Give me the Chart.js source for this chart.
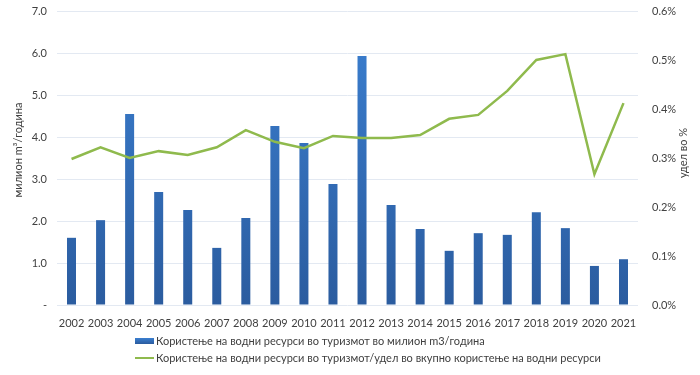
<!DOCTYPE html>
<html>
<head>
<meta charset="utf-8">
<script src="https://cdn.jsdelivr.net/npm/chart.js@4"></script>
<style>
html,body{margin:0;padding:0;background:#fff;}
#wrap{position:relative;width:700px;height:375px;}
</style>
</head>
<body>
<div id="wrap"><canvas id="c" width="700" height="375"></canvas></div>
<script>
const years = ["2002","2003","2004","2005","2006","2007","2008","2009","2010","2011","2012","2013","2014","2015","2016","2017","2018","2019","2020","2021"];
const waterUse = [1.60,2.02,4.55,2.69,2.26,1.36,2.07,4.26,3.86,2.88,5.93,2.38,1.81,1.29,1.71,1.67,2.21,1.83,0.93,1.09];
const sharePct = [0.298,0.322,0.300,0.314,0.306,0.322,0.357,0.333,0.320,0.345,0.341,0.341,0.347,0.380,0.388,0.437,0.500,0.512,0.267,0.412];
const leftTicks = ["-","1.0","2.0","3.0","4.0","5.0","6.0","7.0"];
const rightTicks = ["0.0%","0.1%","0.2%","0.3%","0.4%","0.5%","0.6%"];
const barLabel = "Користење на водни ресурси во туризмот во милион m3/година";
const lineLabel = "Користење на водни ресурси во туризмот/удел во вкупно користење на водни ресурси";
const leftTitle = "милион m³/година";
const rightTitle = "удел во %";

const FONT = "Lato, 'Open Sans', sans-serif";
const TXT = "#404040";

const extrasPlugin = {
  id: 'extras',
  afterDraw(chart) {
    const ctx = chart.ctx;
    ctx.save();
    ctx.font = "11px " + FONT;
    ctx.fillStyle = TXT;
    ctx.textBaseline = 'middle';
    ctx.textAlign = 'center';
    ctx.save();
    ctx.translate(18, 150);
    ctx.rotate(-Math.PI / 2);
    ctx.fillText(leftTitle, 0, 0);
    ctx.restore();
    ctx.save();
    ctx.translate(683, 153);
    ctx.rotate(-Math.PI / 2);
    ctx.fillText(rightTitle, 0, 0);
    ctx.restore();
    ctx.restore();
    // legend
    ctx.save();
    ctx.font = "11px " + FONT;
    ctx.textBaseline = 'middle';
    ctx.textAlign = 'left';
    const lx = 135;
    const y1 = 341, y2 = 358;
    const g = ctx.createLinearGradient(0, y1 - 3, 0, y1 + 3);
    g.addColorStop(0, '#3b7fd0'); g.addColorStop(1, '#2a5b9e');
    ctx.fillStyle = g;
    ctx.fillRect(lx, y1 - 3, 19, 6);
    ctx.fillStyle = TXT;
    ctx.fillText(barLabel, lx + 21, y1);
    ctx.strokeStyle = '#8fba4d';
    ctx.lineWidth = 2;
    ctx.beginPath(); ctx.moveTo(lx, y2); ctx.lineTo(lx + 19, y2); ctx.stroke();
    ctx.fillText(lineLabel, lx + 21, y2);
    ctx.restore();
  }
};

function barGradient(context) {
  const chart = context.chart;
  const ca = chart.chartArea;
  if (!ca) return '#3372c0';
  const g = chart.ctx.createLinearGradient(0, ca.top, 0, ca.bottom);
  g.addColorStop(0, '#3b80d2');
  g.addColorStop(1, '#2b5c9f');
  return g;
}

new Chart(document.getElementById('c'), {
  data: {
    labels: years,
    datasets: [
      {
        type: 'line',
        label: lineLabel,
        data: sharePct,
        yAxisID: 'y1',
        borderColor: '#8fba4d',
        borderWidth: 2.5,
        pointRadius: 0,
        tension: 0,
        order: 0
      },
      {
        type: 'bar',
        label: barLabel,
        data: waterUse,
        yAxisID: 'y',
        backgroundColor: barGradient,
        borderWidth: 0,
        barPercentage: 0.62,
        categoryPercentage: 0.5,
        order: 1
      }
    ]
  },
  options: {
    responsive: false,
    animation: false,
    layout: { autoPadding: false, padding: { top: 11, bottom: 48, left: 0, right: 0 } },
    plugins: { legend: { display: false }, tooltip: { enabled: false } },
    scales: {
      x: {
        grid: { display: false },
        border: { display: false },
        ticks: { color: TXT, font: { size: 11, family: FONT }, padding: 4, maxRotation: 0, autoSkip: false },
        afterFit(s) { s.height = 22; s.paddingLeft = 0; s.paddingRight = 0; }
      },
      y: {
        position: 'left',
        min: 0, max: 7,
        ticks: {
          stepSize: 1,
          color: TXT,
          font: { size: 11, family: FONT },
          padding: 10,
          callback: (v) => leftTicks[Math.round(v)]
        },
        grid: { color: '#e3e9f2', lineWidth: 1, drawTicks: false },
        border: { display: false },
        afterFit(s) { s.width = 57; s.paddingTop = 0; s.paddingBottom = 0; }
      },
      y1: {
        position: 'right',
        min: 0, max: 0.6,
        ticks: {
          stepSize: 0.1,
          color: TXT,
          font: { size: 11, family: FONT },
          padding: 14,
          callback: (v) => rightTicks[Math.round(v * 10)]
        },
        grid: { display: false, drawTicks: false },
        border: { display: false },
        afterFit(s) { s.width = 62; s.paddingTop = 0; s.paddingBottom = 0; }
      }
    }
  },
  plugins: [extrasPlugin]
});
</script>
</body>
</html>
